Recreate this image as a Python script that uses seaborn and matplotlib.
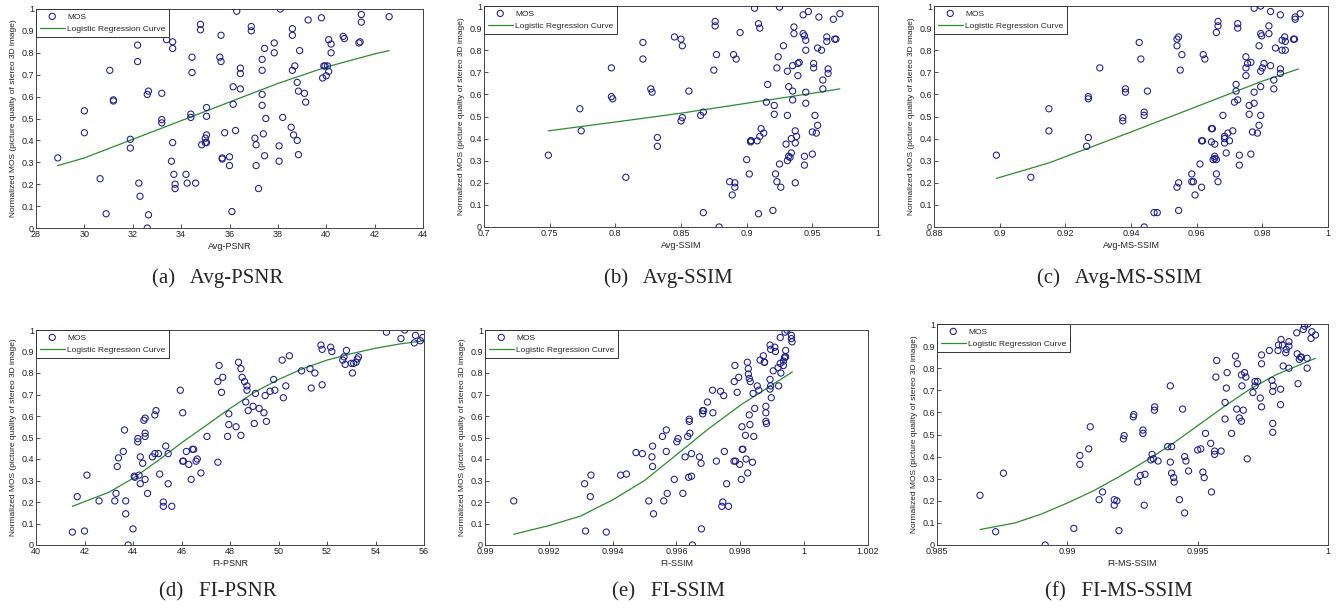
import matplotlib
matplotlib.use("Agg")
import matplotlib.pyplot as plt
import numpy as np
import seaborn as sns

# ------------- data -------------

# (a) Avg-PSNR
avg_psnr_x = [28.9, 30.0, 30.0, 30.65, 30.9, 31.05, 31.2, 31.2, 31.9, 31.9, 32.2, 32.2, 32.25, 32.3,
              32.6, 32.65, 32.65, 32.6, 33.2, 33.2, 33.2, 33.4, 33.65, 33.65, 33.6, 33.65, 33.7, 33.75,
              33.75, 34.2, 34.25, 34.4, 34.4, 34.45, 34.45, 34.6, 34.8, 34.8, 34.85, 35.0, 35.0, 35.05,
              35.05, 35.05, 35.05, 35.6, 35.65, 35.65, 35.7, 35.7, 35.8, 36.0, 36.0, 36.1, 36.15, 36.15,
              36.25, 36.3, 36.45, 36.45, 36.45, 36.9, 36.9, 37.05, 37.1, 37.1, 37.2, 37.35, 37.35, 37.35,
              37.35, 37.4, 37.45, 37.45, 37.5, 37.85, 37.85, 38.05, 38.05, 38.1, 38.2, 38.6, 38.6, 38.6,
              38.55, 38.65, 38.7, 38.8, 38.8, 38.85, 38.85, 38.9, 39.1, 39.15, 39.25, 39.8, 39.85, 39.9,
              39.95, 40.0, 40.05, 40.1, 40.1, 40.2, 40.2, 40.7, 40.75, 41.35, 41.4, 41.45, 41.45, 42.6]
avg_psnr_y = [0.32, 0.535, 0.435, 0.225, 0.065, 0.72, 0.585, 0.58, 0.405, 0.365, 0.835, 0.76, 0.205, 0.145,
              0.61, 0.625, 0.06, 0.0, 0.615, 0.495, 0.48, 0.86, 0.85, 0.82, 0.305, 0.39, 0.245, 0.2,
              0.18, 0.245, 0.205, 0.52, 0.505, 0.78, 0.71, 0.205, 0.93, 0.905, 0.38, 0.41, 0.39, 0.39,
              0.425, 0.55, 0.51, 0.78, 0.76, 0.88, 0.32, 0.315, 0.435, 0.325, 0.285, 0.075, 0.645, 0.565,
              0.445, 0.99, 0.73, 0.705, 0.635, 0.92, 0.9, 0.41, 0.38, 0.285, 0.18, 0.77, 0.72, 0.61,
              0.56, 0.43, 0.33, 0.82, 0.5, 0.845, 0.8, 0.375, 0.305, 1.0, 0.505, 0.91, 0.88, 0.72,
              0.46, 0.425, 0.74, 0.665, 0.4, 0.625, 0.335, 0.81, 0.615, 0.575, 0.95, 0.96, 0.685, 0.74,
              0.74, 0.695, 0.74, 0.715, 0.86, 0.84, 0.8, 0.875, 0.865, 0.845, 0.85, 0.975, 0.94, 0.965]
avg_psnr_fit_x = [28.9, 30, 32, 34, 36, 38, 40, 42, 42.6]
avg_psnr_fit_y = [0.285, 0.32, 0.405, 0.49, 0.575, 0.66, 0.735, 0.795, 0.81]

# (b) Avg-SSIM
avg_ssim_x = [0.749, 0.773, 0.774, 0.797, 0.797, 0.798, 0.808, 0.821, 0.821, 0.827, 0.828, 0.832, 0.832,
              0.845, 0.850, 0.851, 0.850, 0.851, 0.856, 0.865, 0.867, 0.867, 0.875, 0.876, 0.876, 0.877,
              0.879, 0.887, 0.889, 0.890, 0.891, 0.891, 0.892, 0.895, 0.900, 0.902, 0.903, 0.903, 0.9035,
              0.906, 0.908, 0.909, 0.909, 0.910, 0.910, 0.911, 0.913, 0.915, 0.916, 0.920, 0.921, 0.921,
              0.922, 0.923, 0.923, 0.924, 0.925, 0.925, 0.926, 0.928, 0.930, 0.931, 0.931, 0.931, 0.932,
              0.932, 0.933, 0.934, 0.934, 0.935, 0.935, 0.935, 0.936, 0.936, 0.937, 0.937, 0.937, 0.938,
              0.939, 0.940, 0.939, 0.943, 0.943, 0.944, 0.944, 0.944, 0.945, 0.945, 0.945, 0.945, 0.947,
              0.950, 0.950, 0.951, 0.951, 0.952, 0.953, 0.954, 0.954, 0.955, 0.957, 0.958, 0.958, 0.961,
              0.961, 0.962, 0.962, 0.966, 0.967, 0.968, 0.971]
avg_ssim_y = [0.325, 0.535, 0.435, 0.72, 0.59, 0.58, 0.225, 0.835, 0.76, 0.625, 0.61, 0.405, 0.365,
              0.86, 0.85, 0.82, 0.48, 0.495, 0.615, 0.505, 0.52, 0.065, 0.71, 0.93, 0.91, 0.78,
              0.0, 0.205, 0.145, 0.78, 0.2, 0.18, 0.76, 0.88, 0.305, 0.24, 0.39, 0.385, 0.39,
              0.99, 0.39, 0.06, 0.92, 0.90, 0.41, 0.445, 0.425, 0.565, 0.645, 0.075, 0.55, 0.51,
              0.24, 0.205, 0.72, 0.77, 0.995, 0.285, 0.18, 0.82, 0.375, 0.705, 0.505, 0.3, 0.32,
              0.635, 0.315, 0.4, 0.335, 0.73, 0.615, 0.575, 0.905, 0.875, 0.435, 0.38, 0.2, 0.41,
              0.74, 0.745, 0.685, 0.96, 0.875, 0.865, 0.28, 0.32, 0.845, 0.8, 0.61, 0.56, 0.975,
              0.33, 0.43, 0.74, 0.72, 0.505, 0.425, 0.46, 0.81, 0.95, 0.8, 0.665, 0.625, 0.86,
              0.84, 0.715, 0.695, 0.94, 0.85, 0.85, 0.965]
avg_ssim_fit_x = [0.749, 0.8, 0.85, 0.9, 0.95, 0.971]
avg_ssim_fit_y = [0.435, 0.475, 0.515, 0.56, 0.605, 0.625]

# (c) Avg-MS-SSIM
avg_ms_x = [0.899, 0.9095, 0.915, 0.915, 0.9265, 0.927, 0.927, 0.927, 0.9305, 0.9375, 0.9375, 0.9383,
            0.9383, 0.9425, 0.943, 0.944, 0.944, 0.944, 0.945, 0.947, 0.948, 0.954, 0.9545, 0.954, 0.954,
            0.9545, 0.9545, 0.955, 0.9555, 0.9585, 0.9585, 0.959, 0.9595, 0.961, 0.9615, 0.9618, 0.9615,
            0.962, 0.9625, 0.9645, 0.9648, 0.9645, 0.965, 0.9655, 0.9655, 0.9655, 0.966, 0.966, 0.966,
            0.9665, 0.9665, 0.9665, 0.968, 0.9685, 0.9685, 0.9685, 0.969, 0.9695, 0.970, 0.971, 0.972,
            0.972, 0.9715, 0.9725, 0.9725, 0.9725, 0.973, 0.973, 0.975, 0.975, 0.975, 0.9755, 0.976,
            0.976, 0.9765, 0.9765, 0.977, 0.9775, 0.9775, 0.9775, 0.9785, 0.979, 0.979, 0.9795, 0.9798,
            0.9795, 0.9795, 0.9795, 0.9795, 0.980, 0.9805, 0.982, 0.982, 0.9825, 0.9825, 0.9835, 0.9835,
            0.984, 0.9855, 0.9855, 0.9855, 0.986, 0.986, 0.9868, 0.987, 0.987, 0.9895, 0.9898, 0.990,
            0.990, 0.9915]
avg_ms_y = [0.325, 0.225, 0.535, 0.435, 0.365, 0.405, 0.59, 0.58, 0.72, 0.495, 0.48, 0.625,
            0.61, 0.835, 0.76, 0.52, 0.505, 0.0, 0.615, 0.065, 0.065, 0.85, 0.86, 0.82, 0.18,
            0.2, 0.075, 0.71, 0.78, 0.24, 0.205, 0.205, 0.145, 0.285, 0.39, 0.39, 0.18,
            0.78, 0.76, 0.445, 0.445, 0.385, 0.305, 0.32, 0.31, 0.375, 0.24, 0.305, 0.88,
            0.93, 0.91, 0.205, 0.505, 0.41, 0.4, 0.38, 0.335, 0.425, 0.39, 0.435, 0.645,
            0.615, 0.565, 0.575, 0.92, 0.90, 0.28, 0.325, 0.77, 0.72, 0.685, 0.74, 0.55,
            0.51, 0.745, 0.33, 0.43, 0.61, 0.56, 0.99, 0.425, 0.46, 0.82, 0.875, 0.865,
            1.0, 0.705, 0.635, 0.505, 0.72, 0.74, 0.91, 0.875, 0.73, 0.975, 0.665, 0.625,
            0.81, 0.96, 0.715, 0.695, 0.845, 0.8, 0.86, 0.84, 0.8, 0.85, 0.85, 0.95,
            0.94, 0.965]
avg_ms_fit_x = [0.899, 0.915, 0.94, 0.96, 0.98, 0.991]
avg_ms_fit_y = [0.22, 0.29, 0.43, 0.545, 0.66, 0.715]

# (d) FI-PSNR
fi_psnr_x = [41.5, 41.7, 42.0, 42.1, 42.6, 43.25, 43.3, 43.35, 43.4, 43.6, 43.65, 43.7, 43.7, 43.8, 44.0,
             44.05, 44.08, 44.2, 44.2, 44.25, 44.3, 44.3, 44.4, 44.45, 44.5, 44.5, 44.5, 44.5, 44.6, 44.8,
             44.9, 44.9, 44.95, 45.05, 45.1, 45.25, 45.25, 45.35, 45.45, 45.45, 45.6, 45.95, 46.05, 46.08,
             46.05, 46.2, 46.3, 46.4, 46.45, 46.5, 46.6, 46.65, 46.8, 47.05, 47.5, 47.5, 47.55, 47.65,
             47.7, 47.9, 47.95, 47.95, 48.25, 48.35, 48.45, 48.45, 48.5, 48.6, 48.65, 48.7, 48.7, 48.75,
             48.95, 49.0, 49.05, 49.2, 49.4, 49.45, 49.5, 49.65, 49.8, 49.85, 50.15, 50.2, 50.3, 50.45,
             50.95, 51.3, 51.35, 51.5, 51.75, 51.8, 51.8, 52.15, 52.2, 52.65, 52.7, 52.75, 52.8, 53.0,
             53.05, 53.1, 53.2, 53.25, 53.3, 54.45, 55.05, 55.2, 55.6, 55.65, 55.85, 55.95]
fi_psnr_y = [0.06, 0.225, 0.065, 0.325, 0.205, 0.205, 0.24, 0.365, 0.405, 0.435, 0.535, 0.205, 0.145, 0.0, 0.075,
             0.32, 0.315, 0.495, 0.48, 0.325, 0.285, 0.41, 0.38, 0.58, 0.59, 0.52, 0.505, 0.305, 0.24, 0.41,
             0.425, 0.605, 0.625, 0.425, 0.33, 0.2, 0.18, 0.46, 0.425, 0.285, 0.18, 0.72, 0.39, 0.39,
             0.615, 0.435, 0.375, 0.305, 0.445, 0.445, 0.39, 0.4, 0.335, 0.505, 0.385, 0.76, 0.835, 0.71,
             0.78, 0.505, 0.56, 0.61, 0.55, 0.85, 0.82, 0.51, 0.78, 0.76, 0.665, 0.72, 0.74, 0.625,
             0.645, 0.565, 0.705, 0.635, 0.615, 0.695, 0.575, 0.715, 0.77, 0.72, 0.86, 0.685, 0.74, 0.88,
             0.81, 0.82, 0.73, 0.8, 0.93, 0.91, 0.745, 0.92, 0.9, 0.86, 0.875, 0.84, 0.905, 0.845,
             0.8, 0.845, 0.85, 0.865, 0.875, 0.99, 0.96, 1.0, 0.94, 0.975, 0.95, 0.965]
fi_psnr_fit_x = [41.5, 43, 44, 45, 46, 47, 48, 49, 50, 51, 52, 53, 54, 55, 56]
fi_psnr_fit_y = [0.18, 0.245, 0.31, 0.39, 0.475, 0.555, 0.635, 0.71, 0.77, 0.82, 0.86, 0.89, 0.915, 0.935, 0.95]

# (e) FI-SSIM
fi_ssim_x = [0.99090, 0.99312, 0.99315, 0.99332, 0.99330, 0.99380, 0.99425, 0.99443, 0.99473, 0.99493,
             0.99513, 0.99523, 0.99525, 0.99525, 0.99528, 0.99556, 0.99560, 0.99568, 0.99568, 0.99571,
             0.99593, 0.99601, 0.99605, 0.99620, 0.99627, 0.99635, 0.99638, 0.99640, 0.99640, 0.99642,
             0.99647, 0.99647, 0.99650, 0.99672, 0.99677, 0.99678, 0.99682, 0.99682, 0.99685, 0.99697,
             0.99713, 0.99714, 0.99725, 0.99738, 0.99742, 0.99745, 0.99748, 0.99750, 0.99757, 0.99763,
             0.99781, 0.99783, 0.99780, 0.99785, 0.99790, 0.99795, 0.99798, 0.99803, 0.99805, 0.99806,
             0.99808, 0.99816, 0.99818, 0.99822, 0.99823, 0.99825, 0.99825, 0.99828, 0.99830, 0.99831,
             0.99828, 0.99838, 0.99840, 0.99842, 0.99845, 0.99853, 0.99858, 0.99862, 0.99872, 0.99875,
             0.99876, 0.99880, 0.99880, 0.99880, 0.99882, 0.99893, 0.99895, 0.99893, 0.99893, 0.99895,
             0.99897, 0.99903, 0.99908, 0.99910, 0.99918, 0.99920, 0.99925, 0.99925, 0.99927, 0.99935,
             0.99935, 0.99938, 0.99940, 0.99942, 0.99942, 0.99940, 0.99946, 0.99960, 0.99960, 0.99962]
fi_ssim_y = [0.205, 0.285, 0.065, 0.325, 0.225, 0.06, 0.325, 0.33, 0.43, 0.425,
             0.205, 0.41, 0.365, 0.46, 0.145, 0.505, 0.205, 0.535, 0.435, 0.24,
             0.305, 0.48, 0.495, 0.24, 0.41, 0.505, 0.315, 0.585, 0.575, 0.52,
             0.425, 0.32, 0.0, 0.41, 0.38, 0.075, 0.625, 0.61, 0.625, 0.665,
             0.72, 0.615, 0.39, 0.715, 0.18, 0.2, 0.695, 0.435, 0.285, 0.18,
             0.76, 0.835, 0.39, 0.39, 0.71, 0.78, 0.375, 0.305, 0.55, 0.445,
             0.445, 0.51, 0.4, 0.85, 0.335, 0.82, 0.795, 0.605, 0.56, 0.76,
             0.775, 0.385, 0.705, 0.505, 0.635, 0.74, 0.72, 0.86, 0.88, 0.85,
             0.85, 0.645, 0.615, 0.575, 0.565, 0.93, 0.91, 0.77, 0.725, 0.74,
             0.685, 0.81, 0.92, 0.9, 0.825, 0.74, 0.845, 0.965, 0.8, 0.855,
             0.835, 0.87, 0.875, 0.875, 0.905, 0.99, 1.0, 0.975, 0.96, 0.945]
fi_ssim_fit_x = [0.9909, 0.992, 0.993, 0.994, 0.995, 0.996, 0.997, 0.998, 0.999, 0.99963]
fi_ssim_fit_y = [0.05, 0.09, 0.135, 0.21, 0.3, 0.42, 0.54, 0.65, 0.745, 0.805]

# (f) FI-MS-SSIM
fi_ms_x = [0.98665, 0.98725, 0.98755, 0.98915, 0.99025, 0.99048, 0.99048, 0.99082, 0.99088, 0.99122,
           0.99135, 0.99180, 0.99180, 0.99190, 0.99198, 0.99215, 0.99218, 0.99253, 0.99255, 0.99270,
           0.99280, 0.99290, 0.99290, 0.99295, 0.99298, 0.99320, 0.99325, 0.99330, 0.99334, 0.99335,
           0.99348, 0.99385, 0.99395, 0.99395, 0.99400, 0.99400, 0.99408, 0.99410, 0.99430, 0.99442,
           0.99450, 0.99450, 0.99455, 0.99465, 0.99500, 0.99512, 0.99520, 0.99525, 0.99530, 0.99550,
           0.99553, 0.99565, 0.99565, 0.99570, 0.99573, 0.99590, 0.99605, 0.99605, 0.99610, 0.99613,
           0.99630, 0.99645, 0.99650, 0.99652, 0.99660, 0.99668, 0.99668, 0.99670, 0.99675, 0.99680,
           0.99685, 0.99690, 0.99712, 0.99720, 0.99720, 0.99730, 0.99740, 0.99745, 0.99745, 0.99745,
           0.99775, 0.99785, 0.99788, 0.99788, 0.99788, 0.99790, 0.99808, 0.99810, 0.99818, 0.99818,
           0.99820, 0.99825, 0.99828, 0.99838, 0.99840, 0.99850, 0.99850, 0.99850, 0.99880, 0.99882,
           0.99885, 0.99890, 0.99895, 0.99898, 0.99905, 0.99910, 0.99920, 0.99920, 0.99922, 0.99935,
           0.99938, 0.99952]
fi_ms_y = [0.225, 0.06, 0.325, 0.0, 0.075, 0.405, 0.365, 0.435, 0.535, 0.205,
           0.24, 0.205, 0.18, 0.2, 0.065, 0.48, 0.495, 0.58, 0.59, 0.285,
           0.315, 0.52, 0.505, 0.18, 0.32, 0.385, 0.41, 0.39, 0.61, 0.625,
           0.38, 0.445, 0.72, 0.375, 0.445, 0.325, 0.305, 0.285, 0.205, 0.615,
           0.4, 0.145, 0.38, 0.335, 0.43, 0.435, 0.33, 0.305, 0.505, 0.46,
           0.24, 0.425, 0.41, 0.76, 0.835, 0.425, 0.57, 0.645, 0.71, 0.78,
           0.505, 0.855, 0.615, 0.82, 0.575, 0.56, 0.77, 0.72, 0.61, 0.78,
           0.76, 0.39, 0.69, 0.74, 0.72, 0.74, 0.665, 0.86, 0.82, 0.625,
           0.88, 0.745, 0.695, 0.55, 0.51, 0.72, 0.88, 0.905, 0.635, 0.705,
           0.93, 0.905, 0.81, 0.87, 0.885, 0.8, 0.92, 0.9, 0.96, 0.865,
           0.73, 0.84, 0.85, 0.85, 0.975, 0.99, 0.845, 0.8, 1.0, 0.935,
           0.965, 0.95]
fi_ms_fit_x = [0.98665, 0.988, 0.989, 0.990, 0.991, 0.992, 0.993, 0.994, 0.995, 0.996, 0.997, 0.998, 0.99952]
fi_ms_fit_y = [0.07, 0.1, 0.14, 0.19, 0.245, 0.31, 0.38, 0.455, 0.54, 0.625, 0.705, 0.77, 0.845]

panel_labels = ["Avg-PSNR", "Avg-SSIM", "Avg-MS-SSIM", "FI-PSNR", "FI-SSIM", "FI-MS-SSIM"]
captions = ["(a)   Avg-PSNR", "(b)   Avg-SSIM", "(c)   Avg-MS-SSIM",
            "(d)   FI-PSNR", "(e)   FI-SSIM", "(f)   FI-MS-SSIM"]
xticks_all = [[28, 30, 32, 34, 36, 38, 40, 42, 44],
              [0.7, 0.75, 0.8, 0.85, 0.9, 0.95, 1.0],
              [0.88, 0.9, 0.92, 0.94, 0.96, 0.98, 1.0],
              [40, 42, 44, 46, 48, 50, 52, 54, 56],
              [0.99, 0.992, 0.994, 0.996, 0.998, 1.0, 1.002],
              [0.985, 0.99, 0.995, 1.0]]
yticks = [0, 0.1, 0.2, 0.3, 0.4, 0.5, 0.6, 0.7, 0.8, 0.9, 1.0]

# ------------- plotting -------------

sns.set_theme(style="white")
plt.rcParams['font.family'] = ['Liberation Sans', 'DejaVu Sans']

panels = [(avg_psnr_x, avg_psnr_y, avg_psnr_fit_x, avg_psnr_fit_y),
          (avg_ssim_x, avg_ssim_y, avg_ssim_fit_x, avg_ssim_fit_y),
          (avg_ms_x, avg_ms_y, avg_ms_fit_x, avg_ms_fit_y),
          (fi_psnr_x, fi_psnr_y, fi_psnr_fit_x, fi_psnr_fit_y),
          (fi_ssim_x, fi_ssim_y, fi_ssim_fit_x, fi_ssim_fit_y),
          (fi_ms_x, fi_ms_y, fi_ms_fit_x, fi_ms_fit_y)]

W, H = 1343, 608
# axes boxes in pixels (left, top, right, bottom) measured on the reference
px_boxes = [(36, 9, 423, 228), (484, 6, 878, 227), (934, 6, 1328, 227),
            (36, 330, 424, 545), (485, 330, 868, 545), (937, 324, 1328, 545)]
caption_px = [(218, 278), (668, 278), (1119, 278),
              (218, 592), (668, 592), (1119, 592)]

marker_color = '#1c1c8c'
line_color = '#2e8b2e'

fig = plt.figure(figsize=(W / 100, H / 100), dpi=100)

for i in range(6):
    sx, sy, fx, fy = panels[i]
    l, t, r, b = px_boxes[i]
    ax = fig.add_axes([l / W, 1 - b / H, (r - l) / W, (b - t) / H])
    sns.scatterplot(x=sx, y=sy, ax=ax, marker='o', s=20, facecolors='none',
                    edgecolor=marker_color, linewidth=0.75, label='MOS', zorder=3)
    sns.lineplot(x=fx, y=fy, ax=ax, color=line_color, linewidth=0.9,
                 label='Logistic Regression Curve', zorder=2)

    xt = xticks_all[i]
    ax.set_xlim(xt[0], xt[-1])
    ax.set_ylim(0, 1)
    ax.set_xticks(xt)
    ax.set_xticklabels([f"{np.round(v, 4):g}" for v in xt], fontsize=6.5)
    ax.set_yticks(yticks)
    ax.set_yticklabels([f"{v:g}" for v in yticks], fontsize=6.5)
    ax.tick_params(direction='in', length=3, width=0.6, colors='#333333',
                   labelcolor='#222222', pad=1.5, bottom=True, left=True)
    for side in ['top', 'bottom', 'left', 'right']:
        ax.spines[side].set_color('#444444')
        ax.spines[side].set_linewidth(0.7)

    ax.set_xlabel(panel_labels[i], fontsize=6.5, labelpad=2, color='#222222')
    ax.set_ylabel("Normalized MOS (picture quality of stereo 3D image)", fontsize=6,
                  labelpad=3, color='#222222')

    leg = ax.legend(loc='upper left', fontsize=6, frameon=True, fancybox=False,
                    borderaxespad=0, framealpha=1, borderpad=0.45, handlelength=3.0,
                    handletextpad=0.3, labelspacing=0.55)
    leg.get_frame().set_edgecolor('#333333')
    leg.get_frame().set_linewidth(0.7)

    cx, cy = caption_px[i]
    fig.text(cx / W, 1 - cy / H, captions[i], ha='center', va='center',
             fontsize=15, family='Liberation Serif')

fig.savefig("out.png", dpi=100)
